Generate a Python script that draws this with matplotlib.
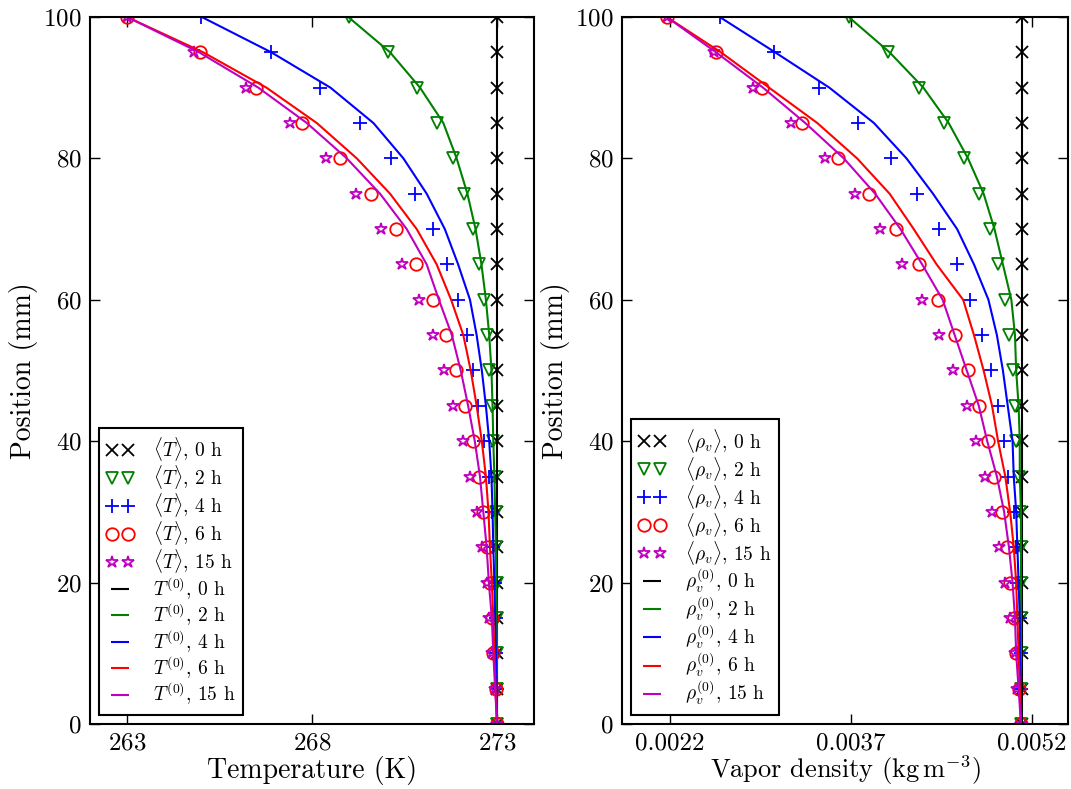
import matplotlib
matplotlib.use('Agg')
from matplotlib import pyplot as plt
from matplotlib.lines import Line2D
from matplotlib.legend_handler import HandlerLine2D

plt.rcParams['font.family'] = 'serif'
plt.rcParams['font.serif'] = ['cmr10', 'DejaVu Serif']
plt.rcParams['mathtext.fontset'] = 'cm'
plt.rcParams['axes.unicode_minus'] = False
plt.rcParams['axes.formatter.use_mathtext'] = True

# heights (mm), top to bottom
pos = [100, 95, 90, 85, 80, 75, 70, 65, 60, 55, 50, 45, 40, 35, 30, 25, 20, 15, 10, 5, 0]
hours = ['0', '2', '4', '6', '15']

# temperature, averaged (markers)
T_avg_0 = [273.0] * 21
T_avg_2 = [269.0, 270.06, 270.83, 271.39, 271.82, 272.11, 272.34, 272.51, 272.66, 272.72, 272.78,
           272.86, 272.9, 272.95, 272.97, 272.98, 273.0, 273.0, 273.0, 273.0, 273.0]
T_avg_4 = [265.0, 266.89, 268.23, 269.30, 270.14, 270.78, 271.26, 271.66, 271.95, 272.20, 272.36,
           272.50, 272.65, 272.78, 272.86, 272.90, 272.95, 272.97, 272.98, 272.99, 273.0]
T_avg_6 = [263.0, 264.97, 266.49, 267.73, 268.76, 269.59, 270.27, 270.81, 271.27, 271.61, 271.88,
           272.14, 272.34, 272.51, 272.63, 272.72, 272.81, 272.86, 272.90, 272.96, 273.0]
T_avg_15 = [263.0, 264.82, 266.23, 267.41, 268.38, 269.19, 269.86, 270.42, 270.89, 271.28, 271.58,
            271.82, 272.09, 272.28, 272.47, 272.59, 272.72, 272.79, 272.87, 272.95, 273.0]

# temperature, model T^(0) (lines)
T_mod_0 = [273.0] * 21
T_mod_2 = [268.98, 270.11, 270.92, 271.55, 271.91, 272.2, 272.42, 272.58, 272.7, 272.79, 272.85,
           272.88, 272.9, 272.93, 272.95, 272.97, 272.98, 272.99, 273.0, 273.0, 273.0]
T_mod_4 = [265.02, 266.9, 268.5, 269.66, 270.47, 271.10, 271.59, 271.95, 272.27, 272.45, 272.59,
           272.70, 272.79, 272.85, 272.88, 272.90, 272.93, 272.95, 272.97, 272.99, 273.0]
T_mod_6 = [263.0, 265.06, 266.77, 268.13, 269.21, 270.11, 270.83, 271.37, 271.76, 272.09, 272.29,
           272.45, 272.59, 272.70, 272.77, 272.81, 272.86, 272.90, 272.93, 272.96, 273.0]
T_mod_15 = [263.0, 264.95, 266.55, 267.86, 268.94, 269.84, 270.56, 271.10, 271.43, 271.78, 272.02,
            272.22, 272.40, 272.54, 272.63, 272.72, 272.78, 272.86, 272.90, 272.95, 273.0]

# vapor density, averaged (markers)
r_avg_0 = [0.005115] * 21
r_avg_2 = [0.00368, 0.00401, 0.00426, 0.00447, 0.00464, 0.00476, 0.00485, 0.00492, 0.00498, 0.00501,
           0.00504, 0.00506, 0.00507, 0.00509, 0.00510, 0.00511, 0.00511, 0.00511, 0.00511, 0.00511, 0.00511]
r_avg_4 = [0.00261, 0.00306, 0.00343, 0.00376, 0.00403, 0.00425, 0.00443, 0.00458, 0.00469, 0.00479,
           0.00486, 0.00492, 0.00497, 0.00500, 0.00505, 0.00507, 0.00508, 0.00510, 0.00511, 0.00511, 0.00512]
r_avg_6 = [0.00217, 0.00258, 0.00296, 0.00329, 0.00359, 0.00385, 0.00407, 0.00426, 0.00442, 0.00456,
           0.00467, 0.00476, 0.00484, 0.00489, 0.00495, 0.00499, 0.00502, 0.00505, 0.00507, 0.00509, 0.00511]
r_avg_15 = [0.00217, 0.00256, 0.00289, 0.00320, 0.00348, 0.00373, 0.00394, 0.00412, 0.00429, 0.00443,
            0.00455, 0.00466, 0.00474, 0.00481, 0.00487, 0.00493, 0.00498, 0.00502, 0.00506, 0.00508, 0.00511]

# vapor density, model rho_v^(0) (lines)
r_mod_0 = [0.005115] * 21
r_mod_2 = [0.00368, 0.00402, 0.00430, 0.00451, 0.00467, 0.00480, 0.00489, 0.00496, 0.00503, 0.00506,
           0.00507, 0.00509, 0.00510, 0.00510, 0.00511, 0.00511, 0.00511, 0.00511, 0.00511, 0.00511, 0.00511]
r_mod_4 = [0.00261, 0.00307, 0.00352, 0.00389, 0.00416, 0.00438, 0.00458, 0.00472, 0.00484, 0.00491,
           0.00496, 0.00500, 0.00504, 0.00505, 0.00507, 0.00508, 0.00509, 0.00510, 0.00510, 0.00511, 0.00511]
r_mod_6 = [0.00217, 0.00262, 0.00302, 0.00342, 0.00375, 0.00402, 0.00422, 0.00441, 0.00463, 0.00472,
           0.00480, 0.00487, 0.00492, 0.00498, 0.00502, 0.00505, 0.00507, 0.00508, 0.00509, 0.00510, 0.00511]
r_mod_15 = [0.00217, 0.00258, 0.00297, 0.00332, 0.00364, 0.00390, 0.00411, 0.00429, 0.00446, 0.00456,
            0.00466, 0.00476, 0.00483, 0.00491, 0.00497, 0.00501, 0.00504, 0.00506, 0.00507, 0.00509, 0.00511]

colors = ['k', 'g', 'b', 'r', 'm']
markers = ['x', 'v', '+', 'o', '*']
msizes = [8, 8, 10, 9, 9]


def panel(ax, avg, mod, avg_name, mod_name):
    handles = []
    labels = []
    hmap = {}
    for i in range(5):
        fill = colors[i] if markers[i] in ('x', '+') else 'none'
        ln, = ax.plot(avg[i], pos, ls='none', marker=markers[i], ms=msizes[i], mec=colors[i],
                      mfc=fill, mew=1.3)
        handles.append(ln)
        labels.append(avg_name + ', ' + hours[i] + ' h')
    for i in range(5):
        ax.plot(mod[i], pos, c=colors[i], lw=1.5)
        # short dash for the legend, like the original
        proxy = Line2D([], [], ls='none', marker='_', ms=13, mew=1.5, color=colors[i])
        hmap[proxy] = HandlerLine2D(numpoints=1)
        handles.append(proxy)
        labels.append(mod_name + ', ' + hours[i] + ' h')
    ax.set_ylim(0, 100)
    ax.set_yticks([0, 20, 40, 60, 80, 100])
    ax.set_ylabel('Position (mm)', fontsize=20)
    ax.tick_params(direction='in', top=True, right=True, length=7, width=1, labelsize=18, pad=6)
    for s in ax.spines.values():
        s.set_linewidth(1.5)
    leg = ax.legend(handles, labels, handler_map=hmap, loc='lower left', numpoints=2,
                    handlelength=1.4, fontsize=14, fancybox=False, framealpha=1, edgecolor='k',
                    borderaxespad=0.45, labelspacing=0.0, handletextpad=1.0, borderpad=0.4)
    leg.get_frame().set_linewidth(1.5)


fig = plt.figure(figsize=(10.71, 7.89), dpi=100)
ax1 = fig.add_axes([0.0840, 0.0824, 0.4146, 0.8961])
ax2 = fig.add_axes([0.5808, 0.0824, 0.4164, 0.8961])

panel(ax1, [T_avg_0, T_avg_2, T_avg_4, T_avg_6, T_avg_15],
      [T_mod_0, T_mod_2, T_mod_4, T_mod_6, T_mod_15],
      r'$\langle T\rangle$', r'$T^{(0)}$')
ax1.set_xlim(262, 274)
ax1.set_xticks([263, 268, 273])
ax1.set_xlabel('Temperature (K)', fontsize=20, labelpad=1)

panel(ax2, [r_avg_0, r_avg_2, r_avg_4, r_avg_6, r_avg_15],
      [r_mod_0, r_mod_2, r_mod_4, r_mod_6, r_mod_15],
      r'$\langle \rho_v\rangle$', r'$\rho_v^{(0)}$')
ax2.set_xlim(0.0018, 0.0055)
ax2.set_xticks([0.0022, 0.0037, 0.0052])
ax2.set_xticklabels(['0.0022', '0.0037', '0.0052'])
ax2.set_xlabel(r'Vapor density ($\mathrm{kg\,m^{-3}}$)', fontsize=19, labelpad=-1)

plt.savefig('out.png')
